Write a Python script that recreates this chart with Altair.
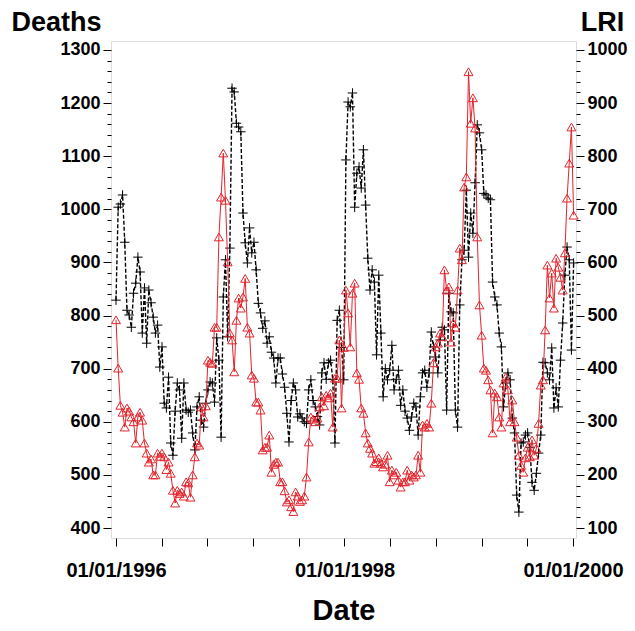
import altair as alt
import pandas as pd

start_date = "1996-01-01"

deaths = [
    829, 1004, 1010, 1027, 938, 810, 801, 778, 842, 861,
    910, 882, 767, 852, 748, 848, 824, 797, 767, 782,
    703, 741, 635, 626, 684, 560, 537, 620, 673, 660,
    569, 673, 622, 618, 622, 579, 547, 628, 647, 603,
    590, 635, 660, 675, 673, 637, 758, 716, 571, 835,
    905, 760, 927, 1228, 1221, 1162, 1155, 1146, 993, 937,
    899, 965, 918, 938, 886, 823, 805, 776, 790, 748,
    760, 731, 720, 673, 720, 720, 690, 665, 616, 562,
    640, 673, 660, 609, 615, 607, 600, 597, 660, 679,
    640, 628, 610, 594, 692, 711, 680, 711, 716, 680,
    560, 791, 810, 740, 679, 1093, 1202, 1193, 1219, 1004,
    1068, 1080, 1040, 1112, 1008, 908, 848, 886, 863, 726,
    876, 767, 647, 700, 679, 697, 744, 660, 680, 697,
    631, 660, 620, 607, 584, 609, 635, 628, 575, 647,
    692, 697, 665, 692, 769, 741, 722, 692, 754, 778,
    773, 622, 842, 807, 805, 622, 590, 820, 905, 923,
    1036, 910, 993, 955, 1050, 1159, 1144, 1112, 1030, 1027,
    1021, 1018, 863, 835, 820, 767, 741, 628, 673, 692,
    679, 607, 579, 462, 430, 560, 562, 575, 579, 552,
    486, 471, 503, 541, 575, 712, 711, 692, 679, 739,
    626, 664, 628, 716, 786, 876, 929, 905, 735, 899,
]

lri = [
    492, 401, 331, 318, 290, 326, 320, 309, 300, 260,
    309, 318, 303, 260, 241, 224, 230, 200, 200, 241,
    235, 241, 234, 210, 224, 203, 171, 147, 171, 165,
    168, 160, 187, 185, 158, 200, 234, 260, 256, 328,
    309, 330, 416, 412, 410, 478, 478, 648, 723, 806,
    717, 601, 467, 454, 394, 491, 533, 514, 535, 570,
    478, 467, 388, 382, 337, 337, 322, 247, 252, 252,
    275, 205, 220, 224, 224, 187, 187, 170, 149, 153,
    140, 131, 168, 160, 150, 153, 160, 196, 262, 309,
    305, 300, 307, 328, 347, 330, 350, 345, 354, 290,
    382, 382, 454, 326, 440, 548, 505, 441, 542, 561,
    392, 380, 326, 316, 279, 260, 250, 241, 222, 225,
    232, 222, 215, 220, 237, 187, 209, 200, 205, 190,
    177, 187, 187, 209, 190, 200, 196, 200, 237, 205,
    294, 290, 297, 290, 335, 411, 441, 448, 467, 460,
    586, 548, 554, 450, 486, 478, 548, 627, 605, 742,
    761, 959, 862, 910, 853, 648, 520, 463, 401, 397,
    379, 360, 279, 354, 347, 309, 290, 373, 384, 360,
    300, 341, 300, 271, 237, 218, 205, 232, 252, 234,
    266, 237, 250, 297, 369, 379, 473, 595, 533, 580,
    514, 608, 591, 572, 548, 618, 721, 787, 855, 689,
]

x_label_years = [1996, 1998, 2000]
x_label_texts = ["01/01/1996", "01/01/1998", "01/01/2000"]

dates = pd.date_range(start_date, periods=len(deaths), freq="7D")
t = 1996 + (dates - pd.Timestamp(start_date)).days / 365.25
df = pd.DataFrame({"t": t, "Deaths": deaths, "LRI": lri})

FONT = "Liberation Sans"
x_ticks = [round(1996 + 0.4 * k, 6) for k in range(11)]
label_expr = "".join(
    f"abs(datum.value - {yv}) < 0.001 ? '{tx}' : " for yv, tx in zip(x_label_years, x_label_texts)
) + "''"

x_enc = alt.X(
    "t:Q",
    scale=alt.Scale(domain=[1995.9562, 2000.0263], nice=False, zero=False),
    axis=alt.Axis(
        values=x_ticks, labelExpr=label_expr, title="Date", grid=False,
        tickSize=8, tickColor="black", domain=False, labelOverlap=False,
        labelFont=FONT, labelFontSize=20, labelFontWeight="bold", labelColor="black",
        labelPadding=14, labelFlush=False,
        titleFont=FONT, titleFontSize=29, titleFontWeight="bold", titleColor="black",
        titleBaseline="alphabetic", titleY=81,
    ),
)

tick_size_cond = {"condition": {"test": "datum.value % 100 === 0", "value": 8}, "value": 4}
minor_expr = "datum.value % 100 === 0 ? datum.label : ''"

def y_axis(orient, title, title_x):
    return alt.Axis(
        orient=orient, values=list(range(0, 1400, 20)), labelExpr=minor_expr, format="d",
        grid=False, domain=False, tickColor="black", tickSize=tick_size_cond,
        labelOverlap=False, labelFont=FONT, labelFontSize=18, labelFontWeight="bold",
        labelColor="black", labelPadding=3,
        title=title, titleAngle=0, titleAlign="center", titleBaseline="alphabetic",
        titleX=title_x, titleY=-11, titleFont=FONT, titleFontSize=27,
        titleFontWeight="bold", titleColor="black",
    )

base = alt.Chart(df)

y_d = alt.Y("Deaths:Q", scale=alt.Scale(domain=[381.2, 1316.9], nice=False, zero=False),
            axis=y_axis("left", "Deaths", -55))
plus = "M-1,0L1,0M0,-1L0,1"
deaths_layer = alt.layer(
    base.mark_line(color="black", strokeDash=[4, 2], strokeWidth=1.4).encode(x=x_enc, y=y_d),
    base.mark_point(shape=plus, size=90, filled=False, color="black", strokeWidth=1, opacity=1).encode(x=x_enc, y=y_d),
)

y_l = alt.Y("LRI:Q", scale=alt.Scale(domain=[81.2, 1016.9], nice=False, zero=False),
            axis=y_axis("right", "LRI", 26))
red = "#e4232b"
lri_layer = alt.layer(
    base.mark_line(color=red, strokeWidth=1).encode(x=x_enc, y=y_l),
    base.mark_point(shape="triangle-up", size=80, filled=False, color=red, strokeWidth=1, opacity=1).encode(x=x_enc, y=y_l),
)

chart = alt.layer(deaths_layer, lri_layer).resolve_scale(y="independent").properties(
    width=465, height=497,
    autosize=alt.AutoSizeParams(type="none"),
    padding={"left": 103, "top": 33, "right": 51, "bottom": 88},
).configure_view(stroke="black", strokeWidth=1).configure(background="white")

chart.save("out.html", embed_options={"renderer": "svg", "actions": False})
